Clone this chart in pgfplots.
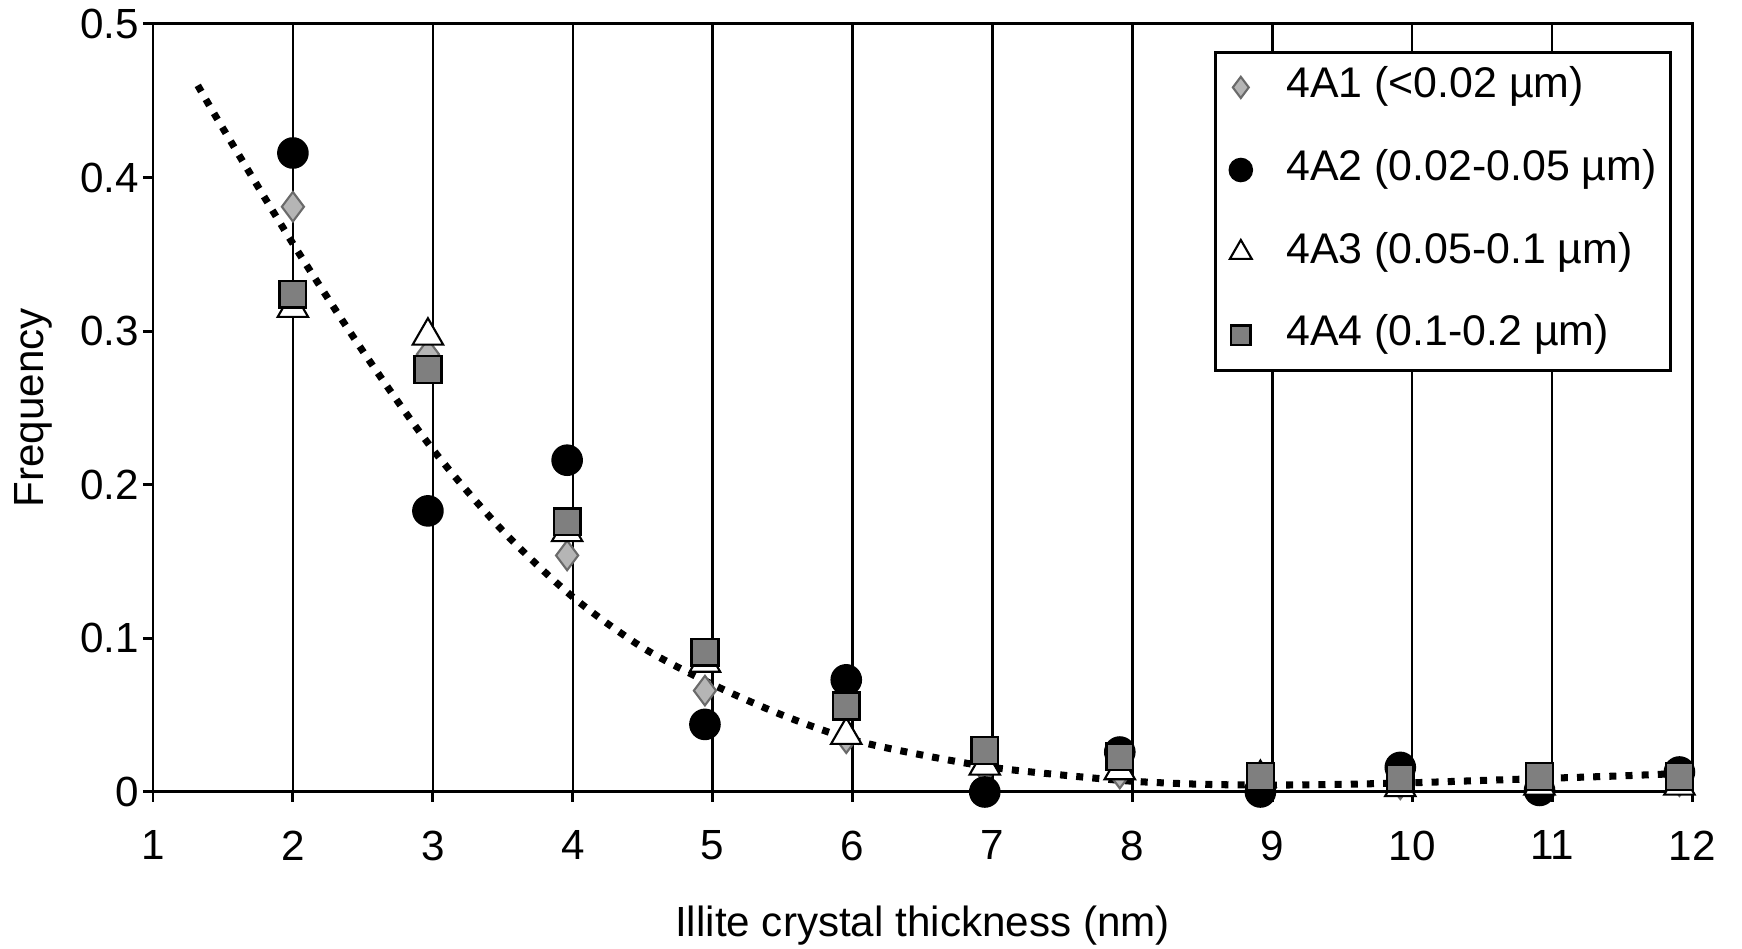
\documentclass[border=0pt]{standalone}
\usepackage{fontspec}
\setmainfont{Liberation Sans}
\usepackage{pgfplots}
\usepackage{pgfplotstable}
\pgfplotsset{compat=1.18}
\definecolor{sqgray}{HTML}{7F7F7F}
\definecolor{dmfill}{HTML}{B5B5B5}
\definecolor{dmedge}{HTML}{6A6A6A}

\pgfplotstableread{
x y
2.00 0.381
2.965 0.285
3.96 0.154
4.945 0.066
5.955 0.035
6.945 0.015
7.91 0.012
8.915 0.006
9.915 0.005
10.91 0.005
11.91 0.007
}\tA
\pgfplotstableread{
x y
2.00 0.416
2.965 0.183
3.96 0.216
4.945 0.044
5.955 0.073
6.945 0.000
7.91 0.026
8.915 0.000
9.915 0.016
10.91 0.001
11.91 0.013
}\tB
\pgfplotstableread{
x y
2.00 0.315
2.965 0.297
3.96 0.169
4.945 0.084
5.955 0.037
6.945 0.017
7.91 0.014
8.915 0.009
9.915 0.003
10.91 0.004
11.91 0.004
}\tC
\pgfplotstableread{
x y
2.00 0.324
2.965 0.275
3.96 0.176
4.945 0.091
5.955 0.056
6.945 0.027
7.91 0.023
8.915 0.010
9.915 0.009
10.91 0.010
11.91 0.010
}\tD
\pgfplotstableread{
x y
1.32 0.460
1.5 0.432
2 0.357
2.5 0.287
3 0.223
3.5 0.170
4 0.127
4.5 0.094
5 0.070
5.5 0.050
6 0.034
6.5 0.024
7 0.016
7.5 0.011
8 0.007
8.5 0.005
9 0.0045
9.5 0.005
10 0.006
10.5 0.0075
11 0.009
11.5 0.0105
11.9 0.012
}\tTrend

\begin{document}
\begin{tikzpicture}
\begin{axis}[
  scale only axis, width=15.39cm, height=7.68cm,
  xmin=1, xmax=12, ymin=0, ymax=0.5,
  clip=false,
  xtick={1,2,3,4,5,6,7,8,9,10,11,12},
  ytick={0,0.1,0.2,0.3,0.4,0.5},
  yticklabels={0,0.1,0.2,0.3,0.4,0.5},
  tick align=outside, tick pos=left,
  major tick length=0.1cm,
  xmajorgrids,
  major grid style={black, line width=0.7pt},
  axis line style={black, line width=0.85pt},
  tick style={black, line width=0.85pt},
  ticklabel style={font=\fontsize{12}{14}\selectfont},
  /pgf/number format/assume math mode=true,
  yticklabel style={inner sep=0pt, xshift=-1pt},
  xticklabel style={inner sep=0pt, yshift=-8pt},
  xlabel={Illite crystal thickness (nm)},
  ylabel={Frequency},
  label style={font=\fontsize{12}{14}\selectfont, inner sep=0pt},
  xlabel style={at={(axis description cs:0.5,-0.148)}, anchor=north},
  ylabel style={at={(axis description cs:-0.065,0.5)}, anchor=south},
  legend style={at={(axis description cs:0.987,0.965)}, anchor=north east,
    draw=black, line width=0.8pt, inner sep=2pt, row sep=7.5pt, column sep=0.2cm,
    font=\fontsize{12.2}{14}\selectfont,
    nodes={inner sep=2pt, text height=9pt, text depth=3pt}},
  legend cell align=left,
  legend image code/.code={\path (-0.17cm,0) (0.17cm,0); \draw[#1,/tikz/every mark/.append style={scale=0.72}] plot coordinates {(0cm,0cm)};},
]
\addplot[only marks, mark=diamond*, mark size=4.2pt, mark options={fill=dmfill, draw=dmedge, line width=0.6pt}] table {\tA};
\addlegendentry{4A1 (<0.02 µm)}
\addplot[only marks, mark=*, mark size=4.3pt, mark options={fill=black, draw=black}] table {\tB};
\addlegendentry{4A2 (0.02-0.05 µm)\hspace{3pt}}
\addplot[only marks, mark=triangle*, mark size=5pt, mark options={fill=white, draw=black, line width=0.6pt}] table {\tC};
\addlegendentry{4A3 (0.05-0.1 µm)}
\addplot[only marks, mark=square*, mark size=3.8pt, mark options={fill=sqgray, draw=black, line width=0.7pt}] table {\tD};
\addlegendentry{4A4 (0.1-0.2 µm)}
\addplot[black, line width=2pt, dash pattern=on 2pt off 2.6pt, smooth, forget plot] table {\tTrend};
\path ([xshift=-1.53cm,yshift=-1.57cm]axis description cs:0,0) rectangle ([xshift=0.50cm,yshift=0.24cm]axis description cs:1,1);
\end{axis}
\end{tikzpicture}
\end{document}
